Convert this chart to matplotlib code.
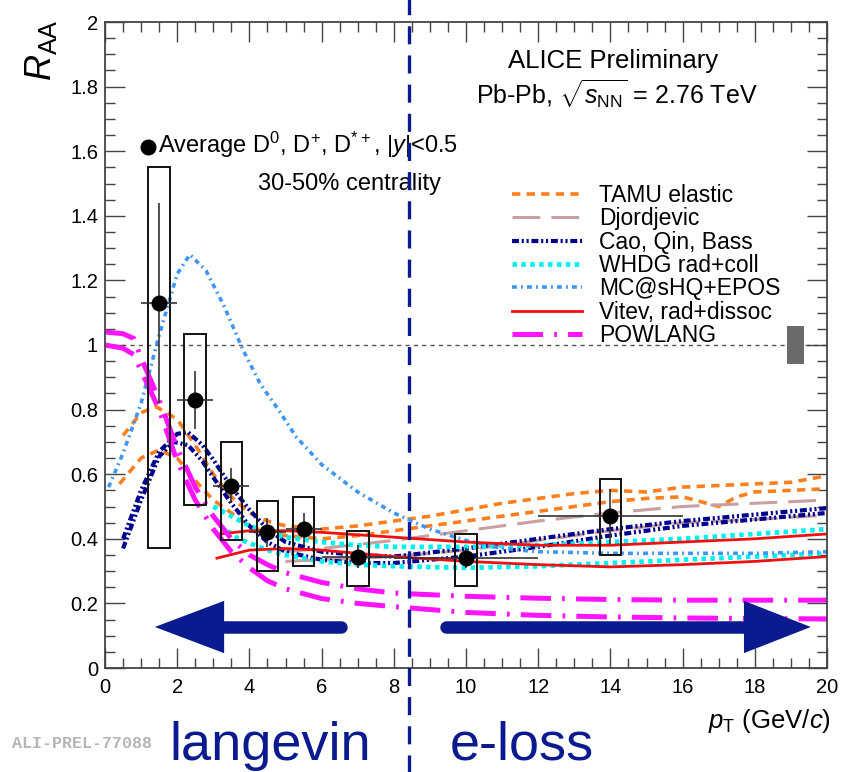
import matplotlib
matplotlib.use("Agg")
import matplotlib.pyplot as plt
from matplotlib.ticker import MultipleLocator, FuncFormatter

plt.rcParams.update({
    "font.family": ["Liberation Sans", "DejaVu Sans"],
    "mathtext.fontset": "custom",
    "mathtext.rm": "Liberation Sans",
    "mathtext.it": "Liberation Sans:italic",
    "mathtext.bf": "Liberation Sans:bold",
    "lines.scale_dashes": False,
})

# ---- measured D-meson R_AA (average D0, D+, D*+), 30-50% ----
pt = [1.5, 2.5, 3.5, 4.5, 5.5, 7.0, 10.0, 14.0]
pt_halfwidth = [0.5, 0.5, 0.5, 0.5, 0.5, 1.0, 2.0, 2.0]
raa = [1.13, 0.83, 0.565, 0.42, 0.43, 0.345, 0.34, 0.47]
stat_err = [0.31, 0.09, 0.055, 0.045, 0.05, 0.035, 0.03, 0.085]
syst_lo = [0.37, 0.505, 0.395, 0.30, 0.316, 0.254, 0.254, 0.35]
syst_hi = [1.55, 1.034, 0.70, 0.517, 0.53, 0.424, 0.415, 0.585]
norm_unc = 0.06

# ---- model curves (upper / lower edge of each band) ----
tamu_hi_x = [0.5, 1, 1.4, 2, 2.5, 3, 3.5, 4, 4.5, 5, 6, 7, 8, 9, 10, 11, 12, 13, 14, 15, 16, 17, 18, 19, 20]
tamu_hi_y = [0.72, 0.79, 0.81, 0.77, 0.69, 0.60, 0.53, 0.48, 0.455, 0.44, 0.43, 0.44, 0.455, 0.47, 0.49, 0.51, 0.525, 0.54, 0.55, 0.545, 0.56, 0.565, 0.57, 0.575, 0.595]
tamu_lo_x = [0.4, 1, 1.5, 2, 2.5, 3, 3.5, 4, 4.5, 5, 6, 7, 8, 9, 10, 11, 12, 13, 14, 15, 16, 16.5, 17, 17.5, 18, 19, 20]
tamu_lo_y = [0.57, 0.65, 0.675, 0.65, 0.58, 0.52, 0.48, 0.44, 0.42, 0.41, 0.40, 0.41, 0.425, 0.44, 0.455, 0.47, 0.485, 0.50, 0.515, 0.525, 0.53, 0.515, 0.50, 0.53, 0.545, 0.55, 0.555]

djor_x = [5, 6, 8, 10, 12, 14, 16, 18, 20]
djor_hi_y = [0.36, 0.37, 0.395, 0.425, 0.455, 0.48, 0.50, 0.51, 0.52]
djor_lo_y = [0.33, 0.335, 0.345, 0.365, 0.395, 0.425, 0.45, 0.46, 0.473]

cao_hi_x = [0.5, 1, 1.5, 2, 2.3, 2.7, 3, 3.5, 4, 4.5, 5, 6, 7, 8, 10, 12, 14, 16, 18, 20]
cao_hi_y = [0.40, 0.55, 0.67, 0.725, 0.73, 0.69, 0.645, 0.56, 0.49, 0.43, 0.39, 0.36, 0.35, 0.345, 0.37, 0.40, 0.43, 0.455, 0.475, 0.495]
cao_lo_x = [0.5, 1, 1.5, 1.9, 2.3, 2.7, 3, 3.5, 4, 4.5, 5, 6, 7, 8, 10, 12, 14, 16, 18, 20]
cao_lo_y = [0.37, 0.52, 0.655, 0.70, 0.69, 0.64, 0.59, 0.51, 0.44, 0.39, 0.36, 0.335, 0.325, 0.325, 0.345, 0.375, 0.41, 0.44, 0.46, 0.48]

whdg_hi_x = [3, 3.5, 4, 4.5, 5, 6, 7, 8, 10, 12, 14, 16, 18, 20]
whdg_hi_y = [0.50, 0.47, 0.44, 0.42, 0.405, 0.39, 0.38, 0.375, 0.375, 0.38, 0.39, 0.40, 0.415, 0.43]
whdg_lo_x = [3.2, 3.7, 4.5, 5, 6, 7, 8, 10, 12, 14, 16, 18, 20]
whdg_lo_y = [0.44, 0.40, 0.365, 0.35, 0.33, 0.32, 0.315, 0.31, 0.315, 0.325, 0.335, 0.345, 0.355]

mcshq_x = [0.1, 0.5, 1, 1.5, 2, 2.35, 2.8, 3.3, 3.8, 4.3, 4.8, 5.3, 6, 7, 8, 9, 10, 11, 12, 14, 16, 18, 20]
mcshq_y = [0.56, 0.665, 0.82, 1.03, 1.22, 1.28, 1.23, 1.12, 0.99, 0.88, 0.80, 0.715, 0.63, 0.545, 0.48, 0.43, 0.395, 0.37, 0.36, 0.355, 0.355, 0.355, 0.36]

vitev_hi_x = [3.2, 4, 5, 6, 8, 10, 12, 14, 16, 18, 20]
vitev_hi_y = [0.415, 0.425, 0.425, 0.42, 0.405, 0.39, 0.38, 0.38, 0.39, 0.40, 0.415]
vitev_lo_x = [3.1, 4, 5, 6, 8, 10, 12, 14, 16, 18, 20]
vitev_lo_y = [0.34, 0.365, 0.37, 0.365, 0.345, 0.33, 0.32, 0.313, 0.32, 0.33, 0.345]

powlang_x = [0, 0.5, 0.8, 1, 1.5, 2, 2.5, 3, 3.5, 4, 4.5, 5, 6, 7, 8, 10, 12, 14, 16, 18, 20]
powlang_hi_y = [1.04, 1.035, 1.02, 0.96, 0.83, 0.68, 0.56, 0.47, 0.40, 0.35, 0.32, 0.295, 0.265, 0.245, 0.232, 0.222, 0.216, 0.212, 0.21, 0.21, 0.21]
powlang_lo_y = [1.0, 0.99, 0.97, 0.92, 0.80, 0.64, 0.52, 0.43, 0.36, 0.31, 0.27, 0.245, 0.215, 0.20, 0.19, 0.172, 0.163, 0.158, 0.155, 0.153, 0.152]

models = [
    ("TAMU elastic", "#ff7f1e", 2.6, (0, (6, 4.5)), [(tamu_hi_x, tamu_hi_y), (tamu_lo_x, tamu_lo_y)]),
    ("Djordjevic", "#c9a0a0", 2.2, (0, (20, 8)), [(djor_x, djor_hi_y), (djor_x, djor_lo_y)]),
    ("Cao, Qin, Bass", "#00008f", 3.0, (0, (5, 2, 1.5, 2, 1.5, 2)), [(cao_hi_x, cao_hi_y), (cao_lo_x, cao_lo_y)]),
    ("WHDG rad+coll", "#00f0f0", 3.4, (0, (3.2, 3.2)), [(whdg_hi_x, whdg_hi_y), (whdg_lo_x, whdg_lo_y)]),
    ("MC@sHQ+EPOS", "#3d96f5", 2.6, (0, (3.5, 3, 1.3, 3)), [(mcshq_x, mcshq_y)]),
    ("Vitev, rad+dissoc", "#f01010", 2.0, "-", [(vitev_hi_x, vitev_hi_y), (vitev_lo_x, vitev_lo_y)]),
    ("POWLANG", "#ff14ff", 3.6, (0, (22, 8, 2, 8)), [(powlang_x, powlang_hi_y), (powlang_x, powlang_lo_y)]),
]

# ---- annotation elements ----
split_pt = 8.42
arrow_y = 0.127
left_arrow = dict(tail=6.55, head_base=3.3, tip=1.38)
right_arrow = dict(tail=9.45, head_base=17.7, tip=19.55)
arrow_head_half = 0.081
navy = "#0b1a8e"

fig = plt.figure(figsize=(8.48, 7.72), dpi=100)
ax = fig.add_axes([105 / 848, 104 / 772, 722 / 848, 646 / 772])
ax.set_xlim(0, 20)
ax.set_ylim(0, 2)

# model bands
handles = []
for label, color, lw, ls, curves in models:
    for i, (xs, ys) in enumerate(curves):
        ln, = ax.plot(xs, ys, color=color, lw=lw, ls=ls, dash_capstyle="butt", zorder=2)
        if i == 0:
            handles.append(ln)

# reference line at unity and normalisation uncertainty
ax.axhline(1.0, color="#555555", lw=1.0, ls=(0, (3, 3)), zorder=1)
ax.bar(19.13, 2 * norm_unc, bottom=1 - norm_unc, width=0.45, color="#6a6a6a", zorder=3)

# systematic boxes
ax.bar(pt, [h - l for h, l in zip(syst_hi, syst_lo)], bottom=syst_lo, width=0.6,
       fill=False, edgecolor="#111111", linewidth=1.4, zorder=4)
# statistical errors and points
ax.errorbar(pt, raa, yerr=stat_err, xerr=pt_halfwidth, fmt="none", ecolor="#333333",
            elinewidth=1.2, capsize=0, zorder=5)
ax.plot(pt, raa, "o", color="black", ms=10.5, zorder=6)

# split line between low- and high-pT regimes
ax.axvline(split_pt, ymin=-0.162, ymax=1.035, color=navy, lw=2.4, ls=(0, (13, 8)),
           clip_on=False, zorder=8)

# arrows
for a in (left_arrow, right_arrow):
    ax.plot([a["tail"], a["head_base"]], [arrow_y, arrow_y], color=navy, lw=9,
            solid_capstyle="round", zorder=7)
    ax.fill([a["head_base"], a["tip"], a["head_base"]],
            [arrow_y + arrow_head_half, arrow_y, arrow_y - arrow_head_half],
            color=navy, lw=0, zorder=7)

# ticks and frame
ax.xaxis.set_major_locator(MultipleLocator(2))
ax.xaxis.set_minor_locator(MultipleLocator(0.5))
ax.yaxis.set_major_locator(MultipleLocator(0.2))
ax.yaxis.set_minor_locator(MultipleLocator(0.05))
fmt = FuncFormatter(lambda v, p: "%g" % round(v, 3))
ax.xaxis.set_major_formatter(fmt)
ax.yaxis.set_major_formatter(fmt)
ax.tick_params(which="both", direction="in", top=True, right=True, colors="#444444",
               labelcolor="black", labelsize=14.5, width=1.0)
ax.tick_params(which="major", length=14.5)
ax.tick_params(which="minor", length=7)
ax.tick_params(axis="x", pad=7)
ax.tick_params(axis="y", pad=5)
for s in ax.spines.values():
    s.set_linewidth(1.3)
    s.set_color("#444444")

# axis titles
ax.text(-0.088, 1.005, r"$R_{\rm AA}$", transform=ax.transAxes, rotation=90,
        ha="center", va="top", fontsize=26)
ax.text(1.006, -0.093, r"$p_{\rm T}$ (GeV/$c$)", transform=ax.transAxes,
        ha="right", va="baseline", fontsize=18.5)

# header texts
ax.text(14.07, 1.857, "ALICE Preliminary", ha="center", va="baseline", fontsize=18.5)
ax.text(14.18, 1.743, r"Pb-Pb, $\sqrt{s_{\rm NN}}$ = 2.76 TeV", ha="center",
        va="baseline", fontsize=18)
ax.plot([0.059], [0.8065], "o", color="black", ms=10.5, transform=ax.transAxes, clip_on=False)
ax.text(1.47, 1.594, r"Average D$^{0}$, D$^{+}$, D$^{*+}$, $|y|$<0.5", ha="left",
        va="baseline", fontsize=17)
ax.text(4.24, 1.48, "30-50% centrality", ha="left", va="baseline", fontsize=17)

# legend
ax.legend(handles, [m[0] for m in models], loc="upper left",
          bbox_to_anchor=(512 / 848, (772 - 184) / 772), bbox_transform=fig.transFigure,
          frameon=False, fontsize=16.5, handlelength=3.05, handletextpad=0.75,
          labelspacing=0.015, borderpad=0, borderaxespad=0)

# regime labels and preliminary id
fig.text(270 / 848, 12 / 772, "langevin", color=navy, fontsize=39, ha="center", va="baseline")
fig.text(522 / 848, 12 / 772, "e-loss", color=navy, fontsize=39, ha="center", va="baseline")
fig.text(12 / 848, 29 / 772, "ALI-PREL-77088", color="#b5b5b5",
         fontsize=12, family="Liberation Mono", weight="bold", ha="left", va="center")

fig.savefig("out.png", dpi=100)
